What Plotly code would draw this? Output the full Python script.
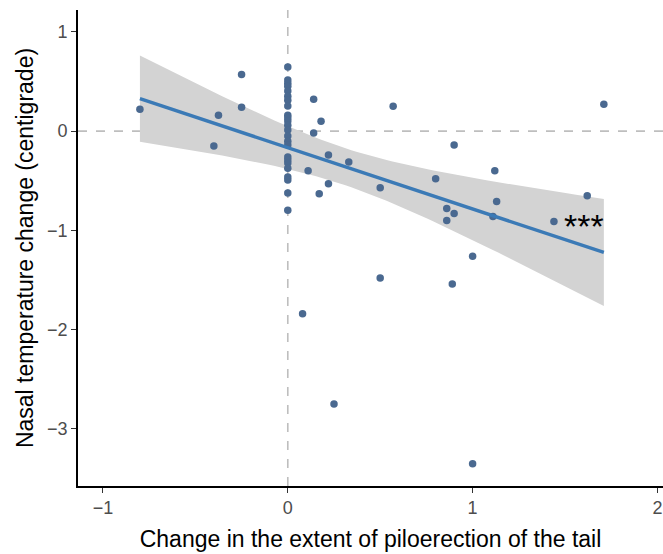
import numpy as np
import plotly.graph_objects as go

# Data
piloerection_change = [
    -0.80, -0.25, -0.25, -0.375, -0.40,
    0, 0, 0, 0, 0, 0, 0, 0, 0, 0, 0, 0,
    0, 0, 0, 0, 0, 0, 0, 0, 0, 0, 0, 0,
    0.14, 0.18, 0.14, 0.22, 0.33, 0.11, 0.22, 0.17,
    0.57, 1.71, 0.90, 0.50, 0.80, 1.12, 1.13, 1.62,
    0.86, 0.90, 0.86, 1.11, 1.44, 1.00, 0.50, 0.89,
    0.08, 0.25, 1.00,
]
nasal_temp_change = [
    0.22, 0.57, 0.24, 0.16, -0.15,
    0.645, 0.514, 0.483, 0.453, 0.403, 0.352, 0.312, 0.252, 0.161, 0.131, 0.101, 0.060,
    0.010, -0.050, -0.101, -0.141, -0.262, -0.292, -0.322, -0.373, -0.463, -0.493, -0.624, -0.796,
    0.32, 0.10, -0.02, -0.24, -0.31, -0.40, -0.53, -0.63,
    0.25, 0.27, -0.14, -0.57, -0.48, -0.40, -0.71, -0.65,
    -0.78, -0.83, -0.90, -0.86, -0.91, -1.26, -1.48, -1.54,
    -1.84, -2.75, -3.35,
]
x_ticks = [-1, 0, 1, 2]
y_ticks = [-3, -2, -1, 0, 1]
signif_label = "***"
signif_pos = (1.6, -0.96)

x = np.array(piloerection_change, dtype=float)
y = np.array(nasal_temp_change, dtype=float)
n = len(x)

# Linear fit with 95% confidence band (like geom_smooth(method="lm"))
b1, b0 = np.polyfit(x, y, 1)
resid = y - (b0 + b1 * x)
df = n - 2
s = np.sqrt(np.sum(resid ** 2) / df)
z = 1.959964
tq = z + (z**3 + z) / (4 * df) + (5 * z**5 + 16 * z**3 + 3 * z) / (96 * df**2)
xg = np.linspace(x.min(), x.max(), 80)
yg = b0 + b1 * xg
se = s * np.sqrt(1 / n + (xg - x.mean()) ** 2 / np.sum((x - x.mean()) ** 2))
upper = yg + tq * se
lower = yg - tq * se

fig = go.Figure()
fig.add_trace(go.Scatter(
    x=np.concatenate([xg, xg[::-1]]), y=np.concatenate([upper, lower[::-1]]),
    fill="toself", fillcolor="rgb(211,211,211)", line=dict(width=0),
    hoverinfo="skip", showlegend=False, mode="lines"))
fig.add_trace(go.Scatter(
    x=x, y=y, mode="markers",
    marker=dict(size=7.5, color="#4A6990"), showlegend=False))
fig.add_trace(go.Scatter(
    x=xg, y=yg, mode="lines", line=dict(color="#3B7AB6", width=3.4),
    showlegend=False))

fig.add_hline(y=0, line=dict(color="#BEBEBE", dash="dash", width=1.6), layer="below")
fig.add_vline(x=0, line=dict(color="#BEBEBE", dash="dash", width=1.6), layer="below")

fig.add_annotation(x=signif_pos[0], y=signif_pos[1], text=signif_label,
                   showarrow=False, font=dict(size=34, color="black", family="Liberation Sans"),
                   xanchor="center", yanchor="middle")

fig.update_layout(
    width=663, height=554,
    margin=dict(l=78, r=0, t=10, b=68),
    plot_bgcolor="white", paper_bgcolor="white",
    font=dict(family="Liberation Sans, Arial, sans-serif"),
    xaxis=dict(range=[-1.135, 2.03], tickvals=x_ticks,
               ticktext=["\u22121", "0", "1", "2"],
               showgrid=False, zeroline=False, showline=True, linecolor="black", linewidth=1.6,
               ticks="outside", ticklen=5, tickcolor="#333333", tickwidth=1.2,
               tickfont=dict(size=18, color="#4D4D4D"),
               title=dict(text="Change in the extent of piloerection of the tail",
                          font=dict(size=23, color="black"), standoff=13)),
    yaxis=dict(range=[-3.575, 1.22], tickvals=y_ticks,
               ticktext=["\u22123", "\u22122", "\u22121", "0", "1"],
               showgrid=False, zeroline=False, showline=True, linecolor="black", linewidth=1.6,
               ticks="outside", ticklen=5, tickcolor="#333333", tickwidth=1.2,
               tickfont=dict(size=18, color="#4D4D4D"),
               title=dict(text="Nasal temperature change (centigrade)",
                          font=dict(size=23, color="black"), standoff=7)),
)

fig.write_html("out.html")
